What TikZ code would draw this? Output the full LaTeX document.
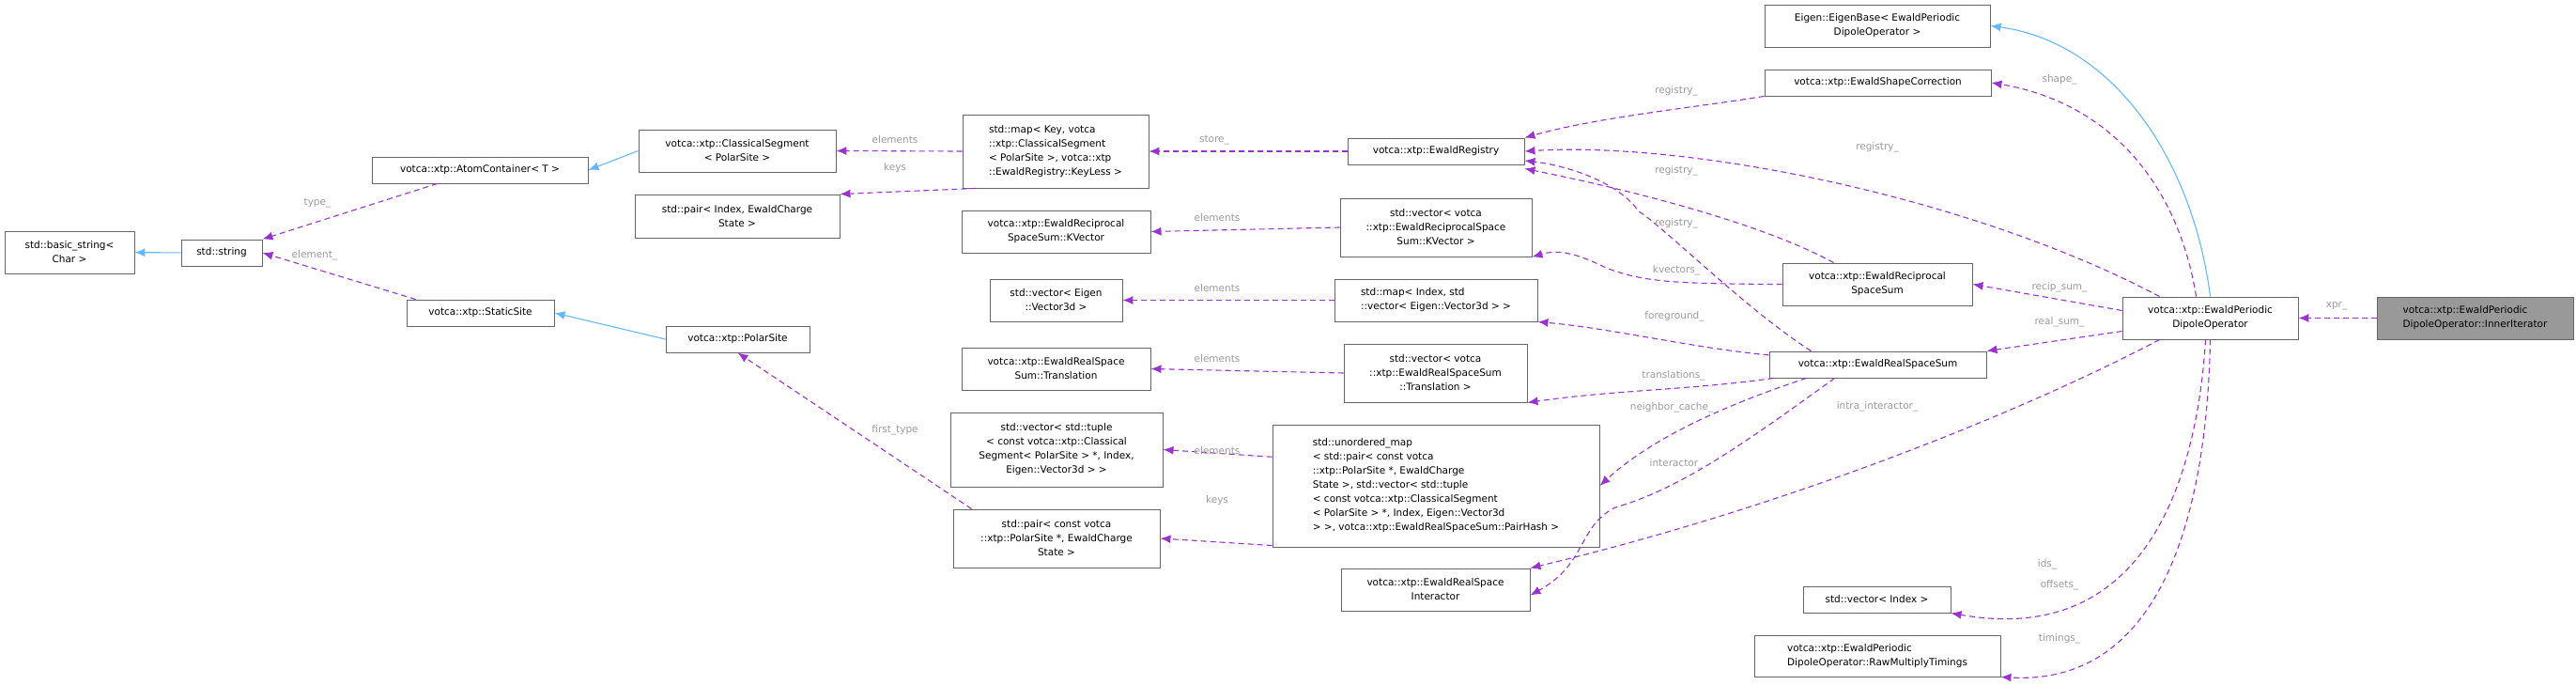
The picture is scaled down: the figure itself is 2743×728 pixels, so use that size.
\documentclass[tikz,border=0pt]{standalone}
\usepackage{fontspec}
\setmainfont{DejaVu Sans}
\usetikzlibrary{arrows.meta}
\definecolor{mem}{HTML}{9A32CD}
\definecolor{inh}{HTML}{63B8FF}
\definecolor{lbl}{HTML}{9A9A9A}
\definecolor{bord}{HTML}{666666}
\tikzset{
  box/.style={draw=bord,line width=0.9pt,inner sep=0pt,font=\fontsize{10.5}{15}\selectfont},
  mem/.style={draw=mem,dashed,dash pattern=on 6pt off 4pt,line width=1.1pt,-{Latex[length=11pt,width=9pt]}},
  inh/.style={draw=inh,line width=1.1pt,-{Latex[length=11pt,width=9pt]}},
  lab/.style={text=lbl,font=\fontsize{10.5}{12}\selectfont,inner sep=1pt}
}
\newcommand\bx[7]{\node[box,align=#6,minimum width={(#4-#2)*1pt},minimum height={(#5-#3)*1pt}] (#1) at ({(#2+#4)/2},{(#3+#5)/2}) {#7};}
\begin{document}
\begin{tikzpicture}[x=1pt,y=-1pt]
\useasboundingbox (0,0) rectangle (2743,728);
% nodes
\bx{bstr}{5}{246}{143}{291}{center}{std::basic\_string<\\Char >}
\bx{str}{193}{255}{279}{283}{center}{std::string}
\bx{atom}{396}{167}{626}{195}{center}{votca::xtp::AtomContainer< T >}
\bx{cseg}{680}{138}{890}{183}{center}{votca::xtp::ClassicalSegment\\< PolarSite >}
\bx{pidx}{676}{207}{894}{253}{center}{std::pair< Index, EwaldCharge\\State >}
\bx{ssite}{433}{319}{590}{347}{center}{votca::xtp::StaticSite}
\bx{psite}{709}{347}{862}{375}{center}{votca::xtp::PolarSite}
\bx{mapkey}{1025}{122}{1223}{200}{left}{std::map< Key, votca\\::xtp::ClassicalSegment\\< PolarSite >, votca::xtp\\::EwaldRegistry::KeyLess >}
\bx{reg}{1435}{147}{1623}{175}{center}{votca::xtp::EwaldRegistry}
\bx{kvec}{1024}{224}{1225}{269}{center}{votca::xtp::EwaldReciprocal\\SpaceSum::KVector}
\bx{vkvec}{1427}{211}{1631}{273}{center}{std::vector< votca\\::xtp::EwaldReciprocalSpace\\Sum::KVector >}
\bx{veig}{1054}{297}{1195}{342}{center}{std::vector< Eigen\\::Vector3d >}
\bx{mapidx}{1421}{297}{1637}{342}{left}{std::map< Index, std\\::vector< Eigen::Vector3d > >}
\bx{trans}{1024}{370}{1225}{415}{center}{votca::xtp::EwaldRealSpace\\Sum::Translation}
\bx{vtrans}{1431}{366}{1626}{428}{center}{std::vector< votca\\::xtp::EwaldRealSpaceSum\\::Translation >}
\bx{vtup}{1012}{439}{1238}{518}{center}{std::vector< std::tuple\\< const votca::xtp::Classical\\Segment< PolarSite > *, Index,\\Eigen::Vector3d > >}
\bx{pps}{1015}{542}{1235}{604}{center}{std::pair< const votca\\::xtp::PolarSite *, EwaldCharge\\State >}
\bx{umap}{1355}{452}{1703}{582}{left}{std::unordered\_map\\< std::pair< const votca\\::xtp::PolarSite *, EwaldCharge\\State >, std::vector< std::tuple\\< const votca::xtp::ClassicalSegment\\< PolarSite > *, Index, Eigen::Vector3d\\ > >, votca::xtp::EwaldRealSpaceSum::PairHash >}
\bx{inter}{1428}{605}{1629}{650}{center}{votca::xtp::EwaldRealSpace\\Interactor}
\bx{eigb}{1879}{5}{2119}{50}{center}{Eigen::EigenBase< EwaldPeriodic\\DipoleOperator >}
\bx{shape}{1879}{74}{2120}{102}{center}{votca::xtp::EwaldShapeCorrection}
\bx{recip}{1898}{280}{2100}{325}{center}{votca::xtp::EwaldReciprocal\\SpaceSum}
\bx{real}{1884}{374}{2115}{402}{center}{votca::xtp::EwaldRealSpaceSum}
\bx{edo}{2260}{316}{2447}{361}{center}{votca::xtp::EwaldPeriodic\\DipoleOperator}
\node[box,fill=black!40,align=left,minimum width=209pt,minimum height=45pt] (inner) at (2635.5,338.5) {votca::xtp::EwaldPeriodic\\DipoleOperator::InnerIterator};
\bx{vidx}{1920}{624}{2077}{652}{center}{std::vector< Index >}
\bx{timing}{1868}{676}{2130}{720}{left}{votca::xtp::EwaldPeriodic\\DipoleOperator::RawMultiplyTimings}
% inheritance
\draw[inh] (str) -- (bstr);
\draw[inh] (cseg.west) -- (atom.east);
\draw[inh] (psite.west) -- (ssite.east);
\draw[inh] (edo.north) .. controls (2335,170) and (2250,45) .. (eigb.east);
% members left part
\draw[mem] (atom.south west) ++(70,0) coordinate (a1) -- (str.north east);
\draw[mem] (ssite.north west) ++(10,0) coordinate (a2) -- (str.east);
\draw[mem] (mapkey.west) -- (cseg.east);
\draw[mem] (mapkey.205) -- (pidx.north east);
\draw[mem] (pps.north west) ++(20,0) coordinate (a3) -- (psite.south);
\draw[mem] (reg.west) -- (mapkey.east);
\draw[mem] (vkvec.west) -- (kvec.east);
\draw[mem] (mapidx.west) -- (veig.east);
\draw[mem] (vtrans.west) -- (trans.east);
\draw[mem] (umap.170) -- (vtup.east);
\draw[mem] (umap.200) -- (pps.east);
\node[lab] (l1) at (338,216) {type\_};
\node[lab] (l2) at (335,272) {element\_};
\node[lab] (l3) at (953,149) {elements};
\node[lab] (l4) at (953,179) {keys};
\node[lab] (l5) at (1293,149) {store\_};
\node[lab] (l6) at (1296,232) {elements};
\node[lab] (l7) at (1296,307) {elements};
\node[lab] (l8) at (1296,382) {elements};
\node[lab] (l9) at (953,458) {first\_type};
\node[lab] (l10) at (1296,480) {elements};
\node[lab] (l11) at (1296,533) {keys};
% members middle
\draw[mem] (shape.south west) .. controls (1800,115) and (1700,125) .. (reg.north east);
\draw[mem] (edo.north west) ++(40,0) coordinate (e1) .. controls (2100,210) and (1800,150) .. (reg.east);
\draw[mem] (recip.north west) ++(55,0) coordinate (r1) .. controls (1880,240) and (1750,205) .. ([yshift=-4pt]reg.south east);
\draw[mem] (real.north west) ++(45,0) coordinate (r2) .. controls (1860,330) and (1770,240) .. (1745,225) .. controls (1720,190) and (1660,175) .. ([yshift=-10pt]reg.east);
\draw[mem] (recip.west) .. controls (1780,302) and (1750,300) .. (1710,285) .. controls (1680,270) and (1660,265) .. (vkvec.south east);
\draw[mem] (real.175) .. controls (1800,370) and (1720,350) .. (mapidx.south east);
\draw[mem] (real.south west) ++(5,0) coordinate (r3) .. controls (1800,415) and (1720,415) .. (vtrans.south east);
\draw[mem] (real.south west) ++(40,0) coordinate (r4) .. controls (1840,430) and (1760,465) .. (umap.east);
\draw[mem] (real.south west) ++(70,0) coordinate (r5) .. controls (1860,470) and (1790,520) .. (1720,540) .. controls (1680,560) and (1690,600) .. ([yshift=-6pt]inter.east);
\draw[mem] (edo.south west) ++(40,0) coordinate (e2) .. controls (2150,440) and (1900,540) .. (inter.north east);
\node[lab] (m1) at (1785,97) {registry\_};
\node[lab] (m2) at (1999,157) {registry\_};
\node[lab] (m3) at (1785,182) {registry\_};
\node[lab] (m4) at (1785,238) {registry\_};
\node[lab] (m5) at (1785,288) {kvectors\_};
\node[lab] (m6) at (1783,337) {foreground\_};
\node[lab] (m7) at (1782,400) {translations\_};
\node[lab] (m8) at (1780,434) {neighbor\_cache\_};
\node[lab] (m9) at (1785,494) {interactor\_};
\node[lab] (m10) at (1999,433) {intra\_interactor\_};
% members right
\draw[mem] (edo.north) ++(-15,0) coordinate (e3) .. controls (2320,200) and (2250,110) .. (shape.east);
\draw[mem] (edo.west) ++(0,-8) coordinate (e4) -- (recip.east);
\draw[mem] (edo.west) ++(0,14) coordinate (e5) -- (real.north east);
\draw[mem] (edo.south) ++(-5,0) coordinate (e6) .. controls (2340,500) and (2290,690) .. (vidx.south east);
\draw[mem] (edo.south) coordinate (e7) .. controls (2350,550) and (2300,730) .. (timing.south east);
\draw[mem] (inner.west) -- (edo.east);
\node[lab] (n1) at (2193,85) {shape\_};
\node[lab] (n2) at (2193,306) {recip\_sum\_};
\node[lab] (n3) at (2193,343) {real\_sum\_};
\node[lab] (n4) at (2180,601) {ids\_};
\node[lab] (n5) at (2193,623) {offsets\_};
\node[lab] (n6) at (2193,680) {timings\_};
\node[lab] (n7) at (2488,326) {xpr\_};
\end{tikzpicture}
\end{document}
